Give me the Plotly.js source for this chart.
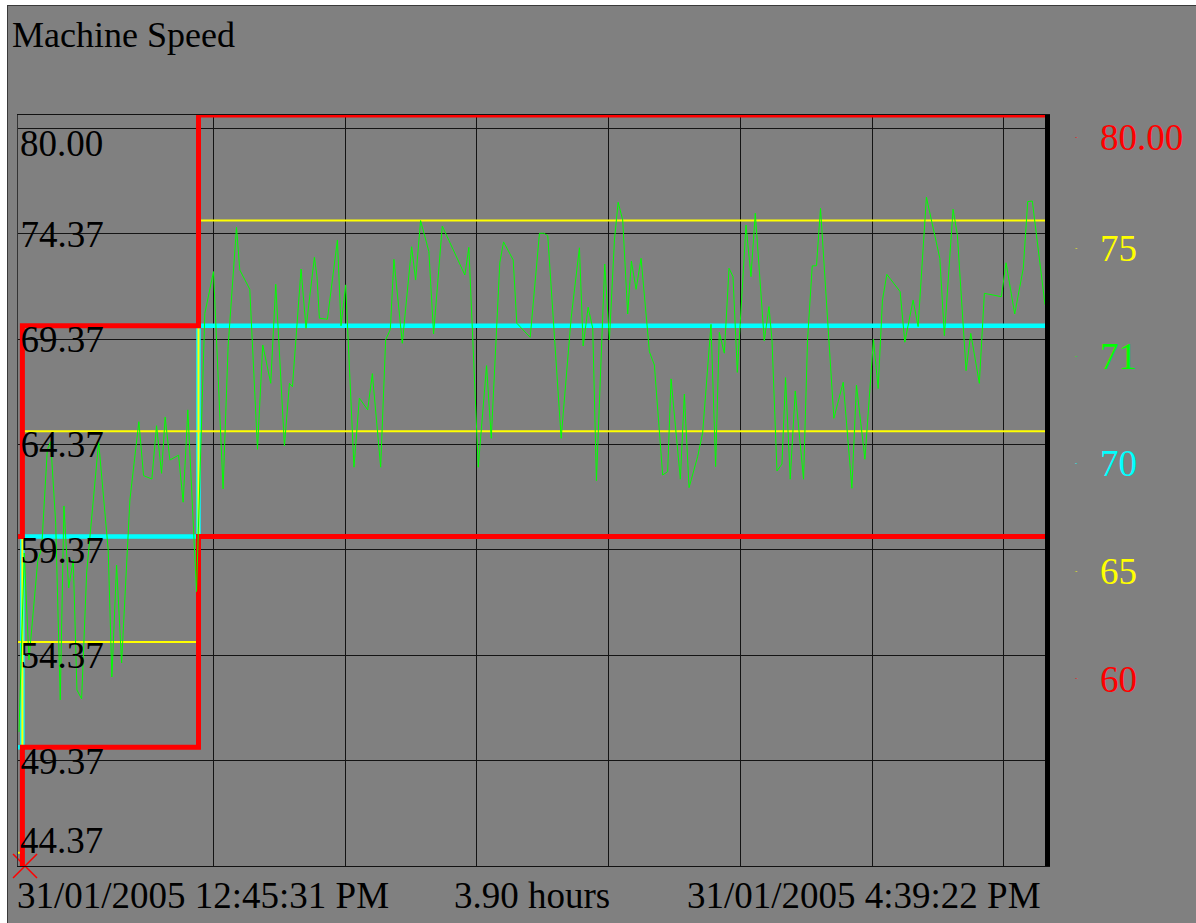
<!DOCTYPE html>
<html>
<head>
<meta charset="utf-8">
<script src="https://cdn.plot.ly/plotly-3.0.1.min.js"></script>
<style>
  html, body { margin: 0; padding: 0; background: #ffffff; overflow: hidden; }
  #frame { position: absolute; left: 7px; top: 5px; width: 1189px; height: 918px;
           border-left: 1px solid #3a3a3a; border-top: 1px solid #3a3a3a; background: #808080; }
  #chart { width: 1188px; height: 917px; }
</style>
</head>
<body>
<div id="frame"><div id="chart"></div></div>
<script>
// ---- data ----
const chartTitle = 'Machine Speed';
const startTime = '2005-01-31 12:45:31';
const endTime = '2005-01-31 16:39:22';
const spanLabel = '3.90 hours';
const startLabel = '31/01/2005 12:45:31 PM';
const endLabel = '31/01/2005 4:39:22 PM';

// minutes since start, and machine speed
const speedMinutes = [0.23,1.43,2.50,4.48,5.39,6.67,7.44,8.58,9.62,10.46,
  11.53,12.58,13.42,14.49,15.63,18.36,20.54,21.38,22.45,23.59,
  25.48,27.52,28.59,30.48,31.55,32.69,33.51,34.58,36.56,37.60,
  38.67,40.65,42.54,44.52,46.70,47.84,49.75,50.50,52.78,54.53,
  55.73,57.55,58.69,60.67,61.81,62.49,64.45,65.58,67.49,68.08,
  68.63,70.45,72.73,73.55,74.61,76.50,77.73,79.62,80.69,82.58,
  83.71,84.78,85.60,87.51,89.63,90.54,91.67,93.56,94.63,96.61,
  101.75,102.66,104.80,106.69,107.76,109.71,110.56,112.76,113.58,116.63,
  118.74,119.72,120.63,123.68,125.95,127.84,128.69,129.82,130.87,131.71,
  133.60,134.67,135.81,136.65,137.69,138.83,139.67,140.74,141.88,143.77,
  144.90,146.79,147.93,148.70,150.82,151.73,152.80,154.75,155.89,156.89,
  157.80,158.85,159.69,160.83,161.90,162.81,163.79,165.77,166.90,167.88,
  169.93,171.00,171.68,172.82,173.95,174.77,175.84,176.98,178.87,179.78,
  180.85,181.82,182.73,185.78,187.90,189.88,190.92,192.84,194.79,195.86,
  196.84,197.84,200.86,201.93,203.82,204.96,206.85,209.90,210.94,212.92,
  213.90,215.88,216.95,218.90,220.04,223.91,224.98,226.95,228.91,229.91,
  230.96,233.85];
const speedValues = [50.73,59.22,54.15,58.81,59.46,64.11,64.50,60.65,52.25,61.45,
  57.56,58.89,52.72,52.30,58.27,64.50,59.36,53.34,58.65,54.00,
  61.74,65.45,62.89,62.73,65.26,63.00,65.67,63.63,63.86,61.63,
  66.01,57.39,70.59,72.57,62.26,69.01,74.67,72.65,71.73,64.14,
  69.09,67.27,71.97,64.30,67.27,67.11,72.69,69.88,73.25,72.33,
  70.36,70.31,74.07,70.00,71.94,63.29,66.57,66.01,67.73,63.29,
  69.33,69.83,73.15,69.17,73.75,72.17,74.99,73.52,69.61,74.73,
  72.41,73.72,63.29,68.11,64.66,72.99,73.98,73.12,70.12,69.45,
  74.39,74.39,74.27,64.66,70.36,73.70,69.04,70.88,69.88,62.65,
  72.93,69.33,74.07,75.86,75.02,70.56,73.07,71.73,73.20,68.77,
  68.14,62.92,63.08,67.48,62.72,66.76,62.32,63.79,64.90,67.43,
  70.07,63.32,69.69,68.70,72.73,72.33,67.79,74.78,72.33,75.34,
  69.29,70.91,69.33,63.11,63.44,67.54,62.72,66.91,62.72,69.33,
  72.84,72.85,75.57,65.61,67.32,62.29,67.19,63.67,69.36,67.02,
  71.22,72.44,71.62,69.22,71.22,69.96,76.10,73.20,69.53,75.53,
  74.31,67.87,69.64,67.27,71.54,71.38,72.99,70.56,72.73,75.89,
  75.92,71.00];

// limit steps (minutes since start)
const stepMinutes = [0, 1.0, 41.1, 233.85];
const upperLimit  = [60, 70, 80, 80];
const upperWarn   = [55, 65, 75, 75];
const targetSpeed = [50, 60, 70, 70];
const lowerWarn   = [45, 55, 65, 65];
const lowerLimit  = [40, 50, 60, 60];

const markerMinutes = [1.6];
const markerValues = [44.37];

// y axis grid / labels
const yGridVals = [44.37, 49.37, 54.37, 59.37, 64.37, 69.37, 74.37, 79.37];
const yGridText = ['', '49.37', '54.37', '59.37', '64.37', '69.37', '74.37', ''];
const yTopLabel = '80.00';
const yBottomLabel = '44.37';
const yMin = 44.37, yMax = 80.0;

// x grid (half hours)
const xGridTimes = ['2005-01-31 13:00:00','2005-01-31 13:30:00','2005-01-31 14:00:00','2005-01-31 14:30:00',
                    '2005-01-31 15:00:00','2005-01-31 15:30:00','2005-01-31 16:00:00','2005-01-31 16:30:00'];

// right-hand current values legend
const rightLabels = ['80.00', '75', '71', '70', '65', '60'];
const rightColors = ['#ff0000', '#ffff00', '#00ff00', '#00ffff', '#ffff00', '#ff0000'];

// ---- helpers ----
const baseMs = Date.UTC(2005, 0, 31, 12, 45, 31);
function stamp(m) {
  return new Date(baseMs + m * 60000).toISOString().replace('T', ' ').replace('Z', '');
}
const FONT = 'Liberation Serif, Times New Roman, serif';
const FS = 37;

function stepTrace(vals, color, width) {
  return { x: stepMinutes.map(stamp), y: vals, type: 'scatter', mode: 'lines',
           line: { color: color, width: width, shape: 'hv' }, hoverinfo: 'skip', showlegend: false };
}

const traces = [
  stepTrace(targetSpeed, '#00ffff', 4.5),
  stepTrace(upperWarn, '#ffff00', 2),
  stepTrace(lowerWarn, '#ffff00', 2),
  stepTrace(upperLimit, '#ff0000', 5),
  stepTrace(lowerLimit, '#ff0000', 5),
  { x: speedMinutes.map(stamp), y: speedValues, type: 'scatter', mode: 'lines',
    line: { color: '#00ff00', width: 1 }, showlegend: false },
  { x: markerMinutes.map(stamp), y: markerValues, yaxis: 'y2', type: 'scatter', mode: 'markers',
    marker: { symbol: 'x-thin', size: 24, color: '#ff0000', line: { color: '#ff0000', width: 1.5 } },
    cliponaxis: false, showlegend: false }
];

const annotations = [
  { xref: 'paper', yref: 'y', x: 0, y: yMax, xanchor: 'left', yanchor: 'top', xshift: 0, yshift: -6,
    text: yTopLabel, showarrow: false, font: { family: FONT, size: FS, color: '#000' } },
  { xref: 'paper', yref: 'y', x: 0, y: yMin, xanchor: 'left', yanchor: 'bottom', xshift: 0, yshift: 3,
    text: yBottomLabel, showarrow: false, font: { family: FONT, size: FS, color: '#000' } },
  { xref: 'x', yref: 'paper', x: startTime, y: 0, xanchor: 'left', yanchor: 'top', xshift: -3, yshift: -7,
    text: startLabel, showarrow: false, font: { family: FONT, size: FS, color: '#000' } },
  { xref: 'paper', yref: 'paper', x: 0.5, y: 0, xanchor: 'center', yanchor: 'top', yshift: -7,
    text: spanLabel, showarrow: false, font: { family: FONT, size: FS, color: '#000' } },
  { xref: 'x', yref: 'paper', x: endTime, y: 0, xanchor: 'right', yanchor: 'top', xshift: -2, yshift: -7,
    text: endLabel, showarrow: false, font: { family: FONT, size: FS, color: '#000' } }
];
const rightY = [0.9694, 0.8216, 0.6778, 0.5353, 0.3915, 0.2490];
rightLabels.forEach((t, i) => {
  annotations.push({ xref: 'paper', yref: 'paper', x: 1.0536, y: rightY[i], xanchor: 'left', yanchor: 'middle',
    xshift: -2, text: t, showarrow: false, font: { family: FONT, size: FS, color: rightColors[i] } });
  annotations.push({ xref: 'paper', yref: 'paper', x: 1.0302, y: rightY[i], xanchor: 'center', yanchor: 'middle',
    yshift: 1, text: '-', showarrow: false, font: { family: FONT, size: 7, color: rightColors[i] } });
});

const layout = {
  width: 1188, height: 917,
  margin: { l: 10, r: 151, t: 109, b: 57, pad: 0 },
  paper_bgcolor: '#808080', plot_bgcolor: '#808080',
  showlegend: false,
  title: { text: chartTitle, xref: 'container', yref: 'container', x: 4 / 1188, xanchor: 'left',
           y: 0.983, yanchor: 'top', pad: { t: 0, b: 0, l: 0, r: 0 },
           font: { family: FONT, size: 36, color: '#000' } },
  xaxis: { type: 'date', range: [startTime, endTime], tickvals: xGridTimes, showticklabels: false,
           ticks: '', showgrid: true, gridcolor: '#141414', gridwidth: 1, zeroline: false,
           showline: true, mirror: true, linecolor: '#111', linewidth: 1, fixedrange: true },
  yaxis: { range: [yMin, yMax], tickvals: yGridVals, ticktext: yGridText, ticklabelposition: 'inside',
           ticklabelstandoff: 7,
           ticks: '', showgrid: true, gridcolor: '#141414', gridwidth: 1, zeroline: false,
           showline: true, linecolor: '#333', linewidth: 1,
           tickfont: { family: FONT, size: FS, color: '#000' }, fixedrange: true },
  yaxis2: { overlaying: 'y', side: 'right', range: [yMin, yMax], showgrid: false, zeroline: false,
            showticklabels: false, ticks: '', showline: true, linecolor: '#000', linewidth: 5, fixedrange: true },
  annotations: annotations
};

Plotly.newPlot('chart', traces, layout, { displayModeBar: false, staticPlot: true });
</script>
</body>
</html>
